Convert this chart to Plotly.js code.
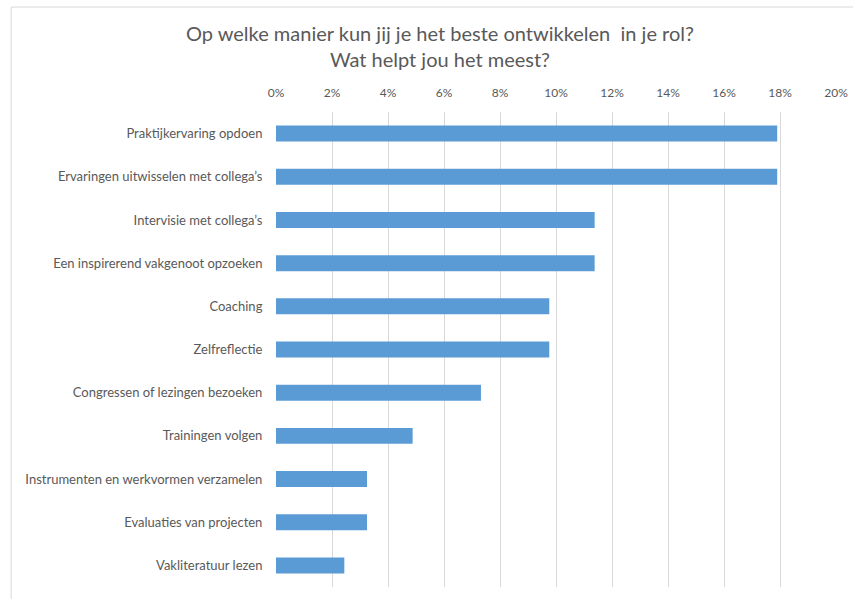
<!DOCTYPE html>
<html>
<head>
<meta charset="utf-8">
<script src="https://cdn.plot.ly/plotly-3.0.1.min.js"></script>
<style>html,body{margin:0;padding:0;background:#fff;}#chart{width:853px;height:599px;}</style>
</head>
<body>
<div id="chart"></div>
<script>
const categories = [
  "Praktijkervaring opdoen",
  "Ervaringen uitwisselen met collega’s",
  "Intervisie met collega’s",
  "Een inspirerend vakgenoot opzoeken",
  "Coaching",
  "Zelfreflectie",
  "Congressen of lezingen bezoeken",
  "Trainingen volgen",
  "Instrumenten en werkvormen verzamelen",
  "Evaluaties van projecten",
  "Vakliteratuur lezen"
];
const shares = [0.179, 0.179, 0.1138, 0.1138, 0.0976, 0.0976, 0.0732, 0.0488, 0.0325, 0.0325, 0.0244];
const tickValues = [0, 0.02, 0.04, 0.06, 0.08, 0.10, 0.12, 0.14, 0.16, 0.18, 0.20];
const tickLabels = ["0%", "2%", "4%", "6%", "8%", "10%", "12%", "14%", "16%", "18%", "20%"];
const titleText = "Op welke manier kun jij je het beste ontwikkelen  in je rol?<br>Wat helpt jou het meest?";

const font = "Lato, 'Open Sans', sans-serif";
const data = [{
  type: "bar",
  orientation: "h",
  y: categories,
  x: shares,
  marker: {color: "#5b9bd5"},
  hoverinfo: "x+y"
}];
const layout = {
  width: 853, height: 599,
  margin: {l: 276, r: 17, t: 112, b: 12},
  paper_bgcolor: "#fff", plot_bgcolor: "#fff",
  font: {family: font, color: "#595959"},
  bargap: 0.63,
  showlegend: false,
  xaxis: {
    side: "top",
    range: [0, 0.2],
    tickvals: tickValues,
    ticktext: tickLabels,
    showgrid: true, gridcolor: "#d9d9d9", gridwidth: 1,
    zeroline: false, showline: false,
    ticks: "outside", ticklen: 9, tickcolor: "rgba(0,0,0,0)",
    tickfont: {size: 12, color: "#595959", family: font},
    fixedrange: true
  },
  yaxis: {
    autorange: "reversed",
    type: "category",
    showgrid: false, zeroline: false, showline: false,
    ticks: "outside", ticklen: 10, tickcolor: "rgba(0,0,0,0)",
    tickfont: {size: 13, color: "#595959", family: font},
    fixedrange: true
  },
  annotations: [{
    text: titleText,
    xref: "paper", yref: "paper",
    x: 0.293, y: 1.138, xanchor: "center", yanchor: "middle",
    showarrow: false, align: "center",
    font: {family: font, size: 20, color: "#595959"}
  }],
  shapes: [{
    type: "rect", xref: "paper", yref: "paper",
    x0: -0.473, x1: 1.2, y0: -0.2, y1: 1.221,
    line: {color: "#d9d9d9", width: 1}, fillcolor: "rgba(0,0,0,0)", layer: "below"
  }]
};
Plotly.newPlot("chart", data, layout, {displayModeBar: false, staticPlot: true});
</script>
</body>
</html>
